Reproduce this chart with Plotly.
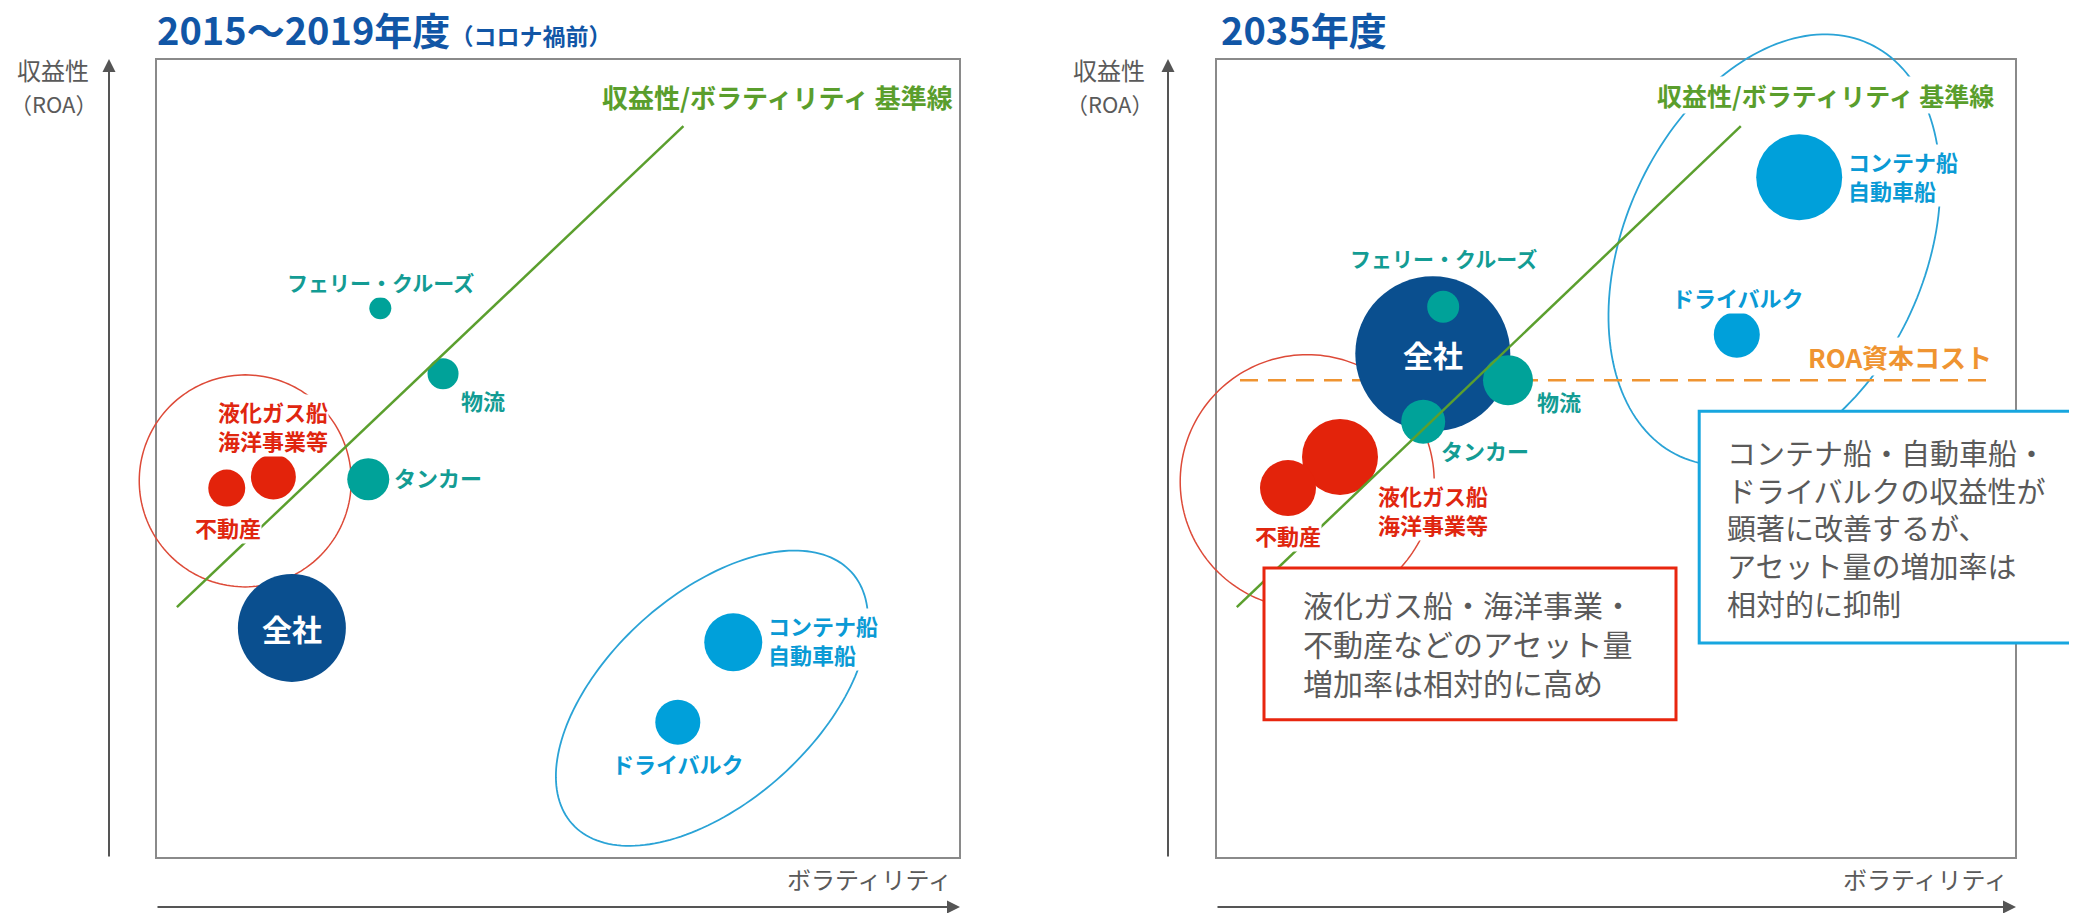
import math
import plotly.graph_objects as go

# ---------------- data ----------------
segments = ["全社", "フェリー・クルーズ", "物流", "タンカー",
            "液化ガス船・海洋事業等", "不動産", "コンテナ船・自動車船", "ドライバルク"]
segment_group = ["total", "teal", "teal", "teal", "red", "red", "blue", "blue"]

volatility_2019 = [16.9, 27.9, 35.7, 26.4, 14.6, 8.8, 71.8, 64.9]
roa_2019 = [28.8, 68.8, 60.6, 47.4, 47.7, 46.3, 27.0, 17.0]
assets_2019 = [108, 22, 31, 42, 45, 37, 58, 45]

volatility_2035 = [27.1, 28.4, 36.5, 25.9, 15.5, 9.0, 72.9, 65.1]
roa_2035 = [63.1, 69.0, 59.8, 54.6, 50.2, 46.3, 85.2, 65.5]
assets_2035 = [155, 32, 50, 44, 76, 56, 86, 46]

baseline_volatility = [2.6, 65.6]
baseline_roa = [31.4, 91.6]
roa_cost_level = 59.8
roa_cost_span = [3.0, 97.4]

panel_titles = ["2015～2019年度", "2035年度"]
title_note = "（コロナ禍前）"
y_axis_title = ["収益性", "（ROA）"]
x_axis_title = "ボラティリティ"
baseline_label = "収益性/ボラティリティ 基準線"
roa_cost_label = "ROA資本コスト"
note_red = ["液化ガス船・海洋事業・", "不動産などのアセット量", "増加率は相対的に高め"]
note_blue = ["コンテナ船・自動車船・", "ドライバルクの収益性が", "顕著に改善するが、",
             "アセット量の増加率は", "相対的に抑制"]

# ---------------- styles / geometry ----------------
FONT = "Noto Sans CJK JP"
COL = {
    "total": "#0A4F8F", "teal": "#00A299", "red": "#E3230B", "blue": "#00A0DA",
    "green": "#5B9F2E", "orange": "#EF9431", "title": "#1156A6", "gray": "#5A5A5A",
    "frame": "#8A8A8A", "axis": "#555555",
}
LABEL_COL = {"teal": "#139C94", "red": "#E0260F", "blue": "#0A9AD5",
             "green": "#5A9E2C", "orange": "#EF9431"}

W, H = 2077, 913
OFF = 8  # page body margin compensation
BOX_TOP, BOX_BOTTOM = 59 - OFF, 858 - OFF
SY = (BOX_BOTTOM - BOX_TOP) / 100.0
YRANGE = [(BOX_BOTTOM - H) / SY, BOX_BOTTOM / SY]

panels = [
    dict(xa="x", ya="y", dom=(0, 1032), box=(156 - OFF, 960 - OFF)),
    dict(xa="x2", ya="y2", dom=(1032, W), box=(1216 - OFF, 2016 - OFF)),
]
for p in panels:
    p["sx"] = (p["box"][1] - p["box"][0]) / 100.0
    p["xrange"] = [(p["dom"][0] - p["box"][0]) / p["sx"], (p["dom"][1] - p["box"][0]) / p["sx"]]
pL, pR = panels


def ellipse_path(cx, cy, a, b, theta, sx, sy, n=180):
    th = math.radians(theta)
    pts = []
    for i in range(n):
        t = 2 * math.pi * i / n
        dx = a * math.cos(t) * math.cos(th) - b * math.sin(t) * math.sin(th)
        dy = a * math.cos(t) * math.sin(th) + b * math.sin(t) * math.cos(th)
        pts.append((cx + dx / sx, cy + dy / sy))
    return "M " + " L ".join(f"{x:.3f},{y:.3f}" for x, y in pts) + " Z"


fig = go.Figure()
shapes = []
annotations = []


def label(lines, x, y, p, color, size=22, xanchor="center", bold=True, bg=None):
    txt = "<br>".join(f"<b>{l}</b>" if bold else l for l in lines)
    annotations.append(dict(
        text=txt, x=x, y=y, xref=p["xa"], yref=p["ya"], showarrow=False,
        xanchor=xanchor, yanchor="middle", align="left" if xanchor == "left" else "center",
        font=dict(family=FONT, size=size, color=color), bgcolor=bg, borderpad=0,
    ))


datasets = [(volatility_2019, roa_2019, assets_2019), (volatility_2035, roa_2035, assets_2035)]
arrow_x_px = [109, 1168]
ylabel_x_px = [53, 1109]
title_x_px = [155, 1219]

for k, p in enumerate(panels):
    vx, vy, vs = datasets[k]
    if k == 1:
        fig.add_trace(go.Scatter(
            x=roa_cost_span, y=[roa_cost_level, roa_cost_level], mode="lines",
            line=dict(color=COL["orange"], width=2.5, dash="18px,10px"),
            xaxis=p["xa"], yaxis=p["ya"], hoverinfo="skip", showlegend=False))
    fig.add_trace(go.Scatter(
        x=vx, y=vy, mode="markers", text=segments,
        marker=dict(size=vs, sizemode="diameter", color=[COL[g] for g in segment_group],
                    opacity=1, line=dict(width=0)),
        xaxis=p["xa"], yaxis=p["ya"], showlegend=False))
    fig.add_trace(go.Scatter(
        x=baseline_volatility, y=baseline_roa, mode="lines",
        line=dict(color=COL["green"], width=2.5),
        xaxis=p["xa"], yaxis=p["ya"], hoverinfo="skip", showlegend=False))

    # frame
    shapes.append(dict(type="rect", xref=p["xa"], yref=p["ya"], x0=0, x1=100, y0=0, y1=100,
                       line=dict(color=COL["frame"], width=2), layer="below"))

    box0_page = p["box"][0] + OFF
    # axis arrows
    ax_x = (arrow_x_px[k] - box0_page) / p["sx"]
    annotations.append(dict(x=ax_x, y=100, ax=ax_x, ay=0, xref=p["xa"], yref=p["ya"],
                            axref=p["xa"], ayref=p["ya"], text="", showarrow=True,
                            arrowhead=2, arrowsize=1.3, arrowwidth=2, arrowcolor=COL["axis"],
                            standoff=0, startstandoff=0))
    xa_y = (858 - 907) / SY
    annotations.append(dict(x=100, y=xa_y, ax=0, ay=xa_y, xref=p["xa"], yref=p["ya"],
                            axref=p["xa"], ayref=p["ya"], text="", showarrow=True,
                            arrowhead=2, arrowsize=1.3, arrowwidth=2, arrowcolor=COL["axis"],
                            standoff=0, startstandoff=0))
    # axis titles
    ylab_x = (ylabel_x_px[k] - box0_page) / p["sx"]
    annotations.append(dict(text=y_axis_title[0], x=ylab_x, y=(858 - 69) / SY,
                            xref=p["xa"], yref=p["ya"], showarrow=False, xanchor="center",
                            font=dict(family=FONT, size=24, color=COL["gray"])))
    annotations.append(dict(text=y_axis_title[1], x=ylab_x, y=(858 - 103) / SY,
                            xref=p["xa"], yref=p["ya"], showarrow=False, xanchor="center",
                            font=dict(family=FONT, size=22, color=COL["gray"])))
    annotations.append(dict(text=x_axis_title, x=99.3, y=(858 - 878) / SY,
                            xref=p["xa"], yref=p["ya"], showarrow=False, xanchor="right",
                            font=dict(family=FONT, size=24, color=COL["gray"])))
    # panel title
    ttl = f"<b>{panel_titles[k]}</b>"
    if k == 0:
        ttl += f"<b><span style='font-size:23px'>{title_note}</span></b>"
    annotations.append(dict(text=ttl, x=(title_x_px[k] - box0_page) / p["sx"],
                            y=(858 - 28) / SY, xref=p["xa"], yref=p["ya"], showarrow=False,
                            xanchor="left", yanchor="middle",
                            font=dict(family=FONT, size=38, color=COL["title"])))
    # 全社 label in bubble
    annotations.append(dict(text="<b>全社</b>", x=vx[0], y=vy[0], xref=p["xa"], yref=p["ya"],
                            showarrow=False, font=dict(family=FONT, size=30, color="white")))

# group ellipses
shapes.append(dict(type="path", xref="x", yref="y", layer="below",
                   path=ellipse_path(11.1, 47.2, 106, 106, 0, pL["sx"], SY),
                   line=dict(color="#DD4A38", width=1.5)))
shapes.append(dict(type="path", xref="x", yref="y", layer="below",
                   path=ellipse_path(69.15, 20.0, 188, 104, 42.0, pL["sx"], SY),
                   line=dict(color="#2AA3D6", width=1.8)))
shapes.append(dict(type="path", xref="x2", yref="y2", layer="below",
                   path=ellipse_path(11.4, 47.1, 127, 127, 0, pR["sx"], SY),
                   line=dict(color="#DD4A38", width=1.5)))
shapes.append(dict(type="path", xref="x2", yref="y2", layer="below",
                   path=ellipse_path(69.8, 76.1, 227, 150, 65.4, pR["sx"], SY),
                   line=dict(color="#2AA3D6", width=1.8)))

# note boxes (right panel)
shapes.append(dict(type="rect", xref="x2", yref="y2", x0=6.0, x1=57.5, y0=17.3, y1=36.3,
                   fillcolor="white", line=dict(color="#E8260F", width=3), layer="above"))
shapes.append(dict(type="rect", xref="x2", yref="y2", x0=60.4, x1=107.2, y0=26.9, y1=55.9,
                   fillcolor="white", line=dict(color="#17A6DF", width=3), layer="above"))
label(note_red, 10.75, 26.9, pR, COL["gray"], size=30, xanchor="left", bold=False)
label(note_blue, 63.75, 41.4, pR, COL["gray"], size=29, xanchor="left", bold=False)

# segment labels
labels_2019 = [
    ([baseline_label], 99.3, 95.3, "green", "right", 26),
    (["フェリー・クルーズ"], 27.9, 72.1, "teal", "center", 21),
    (["物流"], 40.7, 57.3, "teal", "center", 22),
    (["タンカー"], 29.5, 47.7, "teal", "left", 22),
    (["液化ガス船", "海洋事業等"], 14.6, 54.1, "red", "center", 22),
    (["不動産"], 9.0, 41.4, "red", "center", 22),
    (["コンテナ船", "自動車船"], 76.0, 27.3, "blue", "left", 22),
    (["ドライバルク"], 64.9, 11.9, "blue", "center", 22),
]
labels_2035 = [
    ([baseline_label], 97.4, 95.5, "green", "right", 25),
    (["フェリー・クルーズ"], 28.4, 75.1, "teal", "center", 21),
    (["物流"], 42.9, 57.2, "teal", "center", 22),
    (["タンカー"], 28.0, 51.1, "teal", "left", 22),
    (["液化ガス船", "海洋事業等"], 27.1, 43.6, "red", "center", 22),
    (["不動産"], 9.0, 40.4, "red", "center", 22),
    (["ドライバルク"], 65.25, 70.2, "blue", "center", 22),
    (["コンテナ船", "自動車船"], 78.9, 85.4, "blue", "left", 22),
    ([roa_cost_label], 97.1, 62.8, "orange", "right", 26),
]
for p, labs in ((pL, labels_2019), (pR, labels_2035)):
    for lines, x, y, c, xa, sz in labs:
        bg = None if lines[0] in ("タンカー",) else "white"
        label(lines, x, y, p, LABEL_COL[c], size=sz, xanchor=xa, bg=bg)

ax_common = dict(visible=False, fixedrange=True, showgrid=False, zeroline=False)
fig.update_layout(
    width=W, height=H, autosize=False,
    margin=dict(l=0, r=0, t=0, b=0, pad=0),
    paper_bgcolor="white", plot_bgcolor="white",
    font=dict(family=FONT),
    showlegend=False,
    xaxis=dict(domain=[pL["dom"][0] / W, pL["dom"][1] / W], range=pL["xrange"], anchor="y", **ax_common),
    yaxis=dict(domain=[0, 1], range=YRANGE, anchor="x", **ax_common),
    xaxis2=dict(domain=[pR["dom"][0] / W, pR["dom"][1] / W], range=pR["xrange"], anchor="y2", **ax_common),
    yaxis2=dict(domain=[0, 1], range=YRANGE, anchor="x2", **ax_common),
    shapes=shapes,
    annotations=annotations,
)

fig.write_html("out.html")
